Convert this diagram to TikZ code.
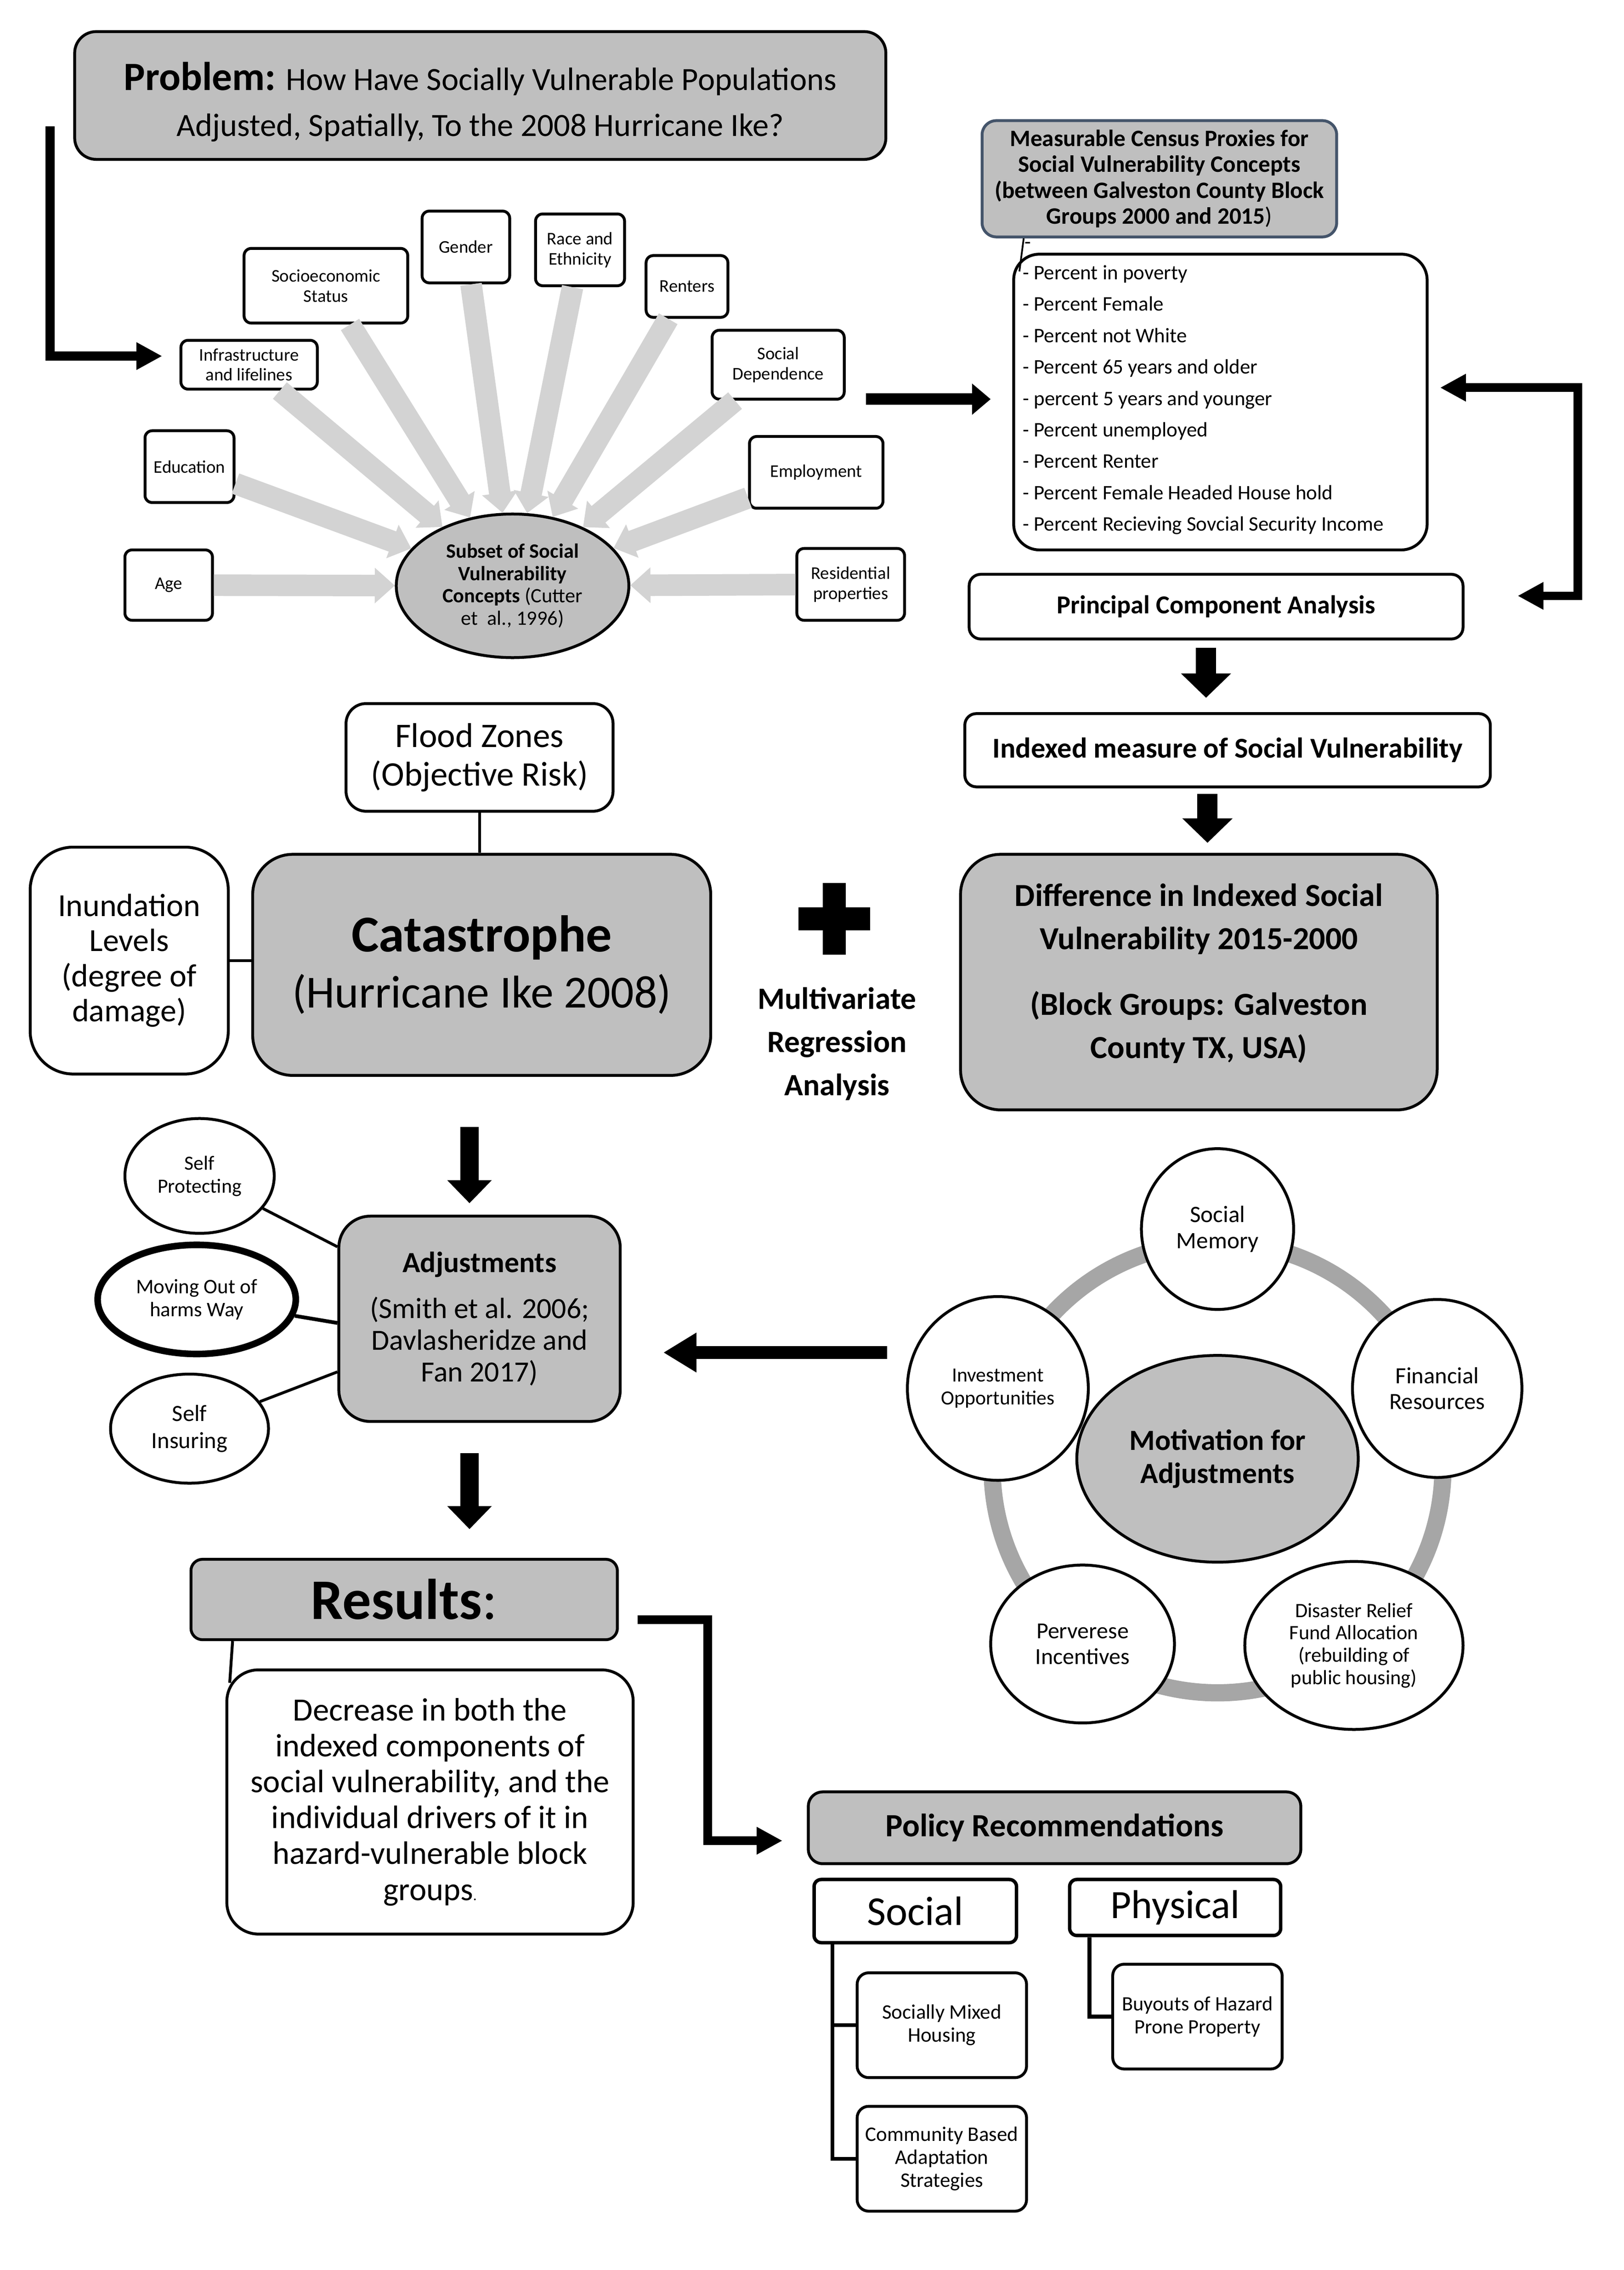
\documentclass[tikz,border=0pt]{standalone}
\usepackage{fontspec}
\setmainfont{Carlito}
\usetikzlibrary{arrows.meta,calc,shapes.geometric}
\definecolor{boxgray}{RGB}{191,191,191}
\definecolor{lightarr}{RGB}{211,211,211}
\definecolor{ringgray}{RGB}{166,166,166}
\definecolor{slateb}{RGB}{68,84,106}
\newcommand{\fsz}[2]{\fontsize{#1pt}{#2pt}\selectfont}
\begin{document}
\begin{tikzpicture}[x=0.5pt,y=-0.5pt,line join=miter,
  sz/.style 2 args={minimum width=#1*0.5pt, minimum height=#2*0.5pt},
  bx/.style={rectangle, draw=black, line width=1pt, fill=white, inner sep=0pt, align=center},
  gbx/.style={bx, fill=boxgray},
  cbx/.style={bx, rounded corners=2.5pt, font=\fsz{6.2}{7}},
  circ/.style={ellipse, draw=black, line width=1pt, fill=white, inner sep=0pt, align=center},
  txt/.style={inner sep=0pt, align=center},
  garrow/.style={draw=lightarr, line width=7.5pt, -{Triangle[width=12pt,length=7pt]}},
  arrA/.style={draw=black, line width=3.2pt, -{Triangle[width=9pt,length=9pt]}},
  arrB/.style={draw=black, line width=4pt, -{Triangle[width=10.5pt,length=6.5pt]}},
  arrC/.style={draw=black, line width=3pt, {Triangle[width=9pt,length=9pt]}-{Triangle[width=9pt,length=9pt]}},
  arrD/.style={draw=black, line width=7pt, -{Triangle[width=17pt,length=8.5pt]}},
  arrE/.style={draw=black, line width=6.5pt, -{Triangle[width=15pt,length=8pt]}},
  arrF/.style={draw=black, line width=4.5pt, -{Triangle[width=13pt,length=11.5pt]}},
  arrG/.style={draw=black, line width=3pt, -{Triangle[width=9pt,length=9pt]}},
  thin/.style={draw=black, line width=1pt},
  tree/.style={draw=black, line width=1.3pt}
]
\useasboundingbox (0,0) rectangle (1131,1581);
\fill[white] (0,0) rectangle (1131,1581);

% ---------- Problem ----------
\node[gbx, rounded corners=7.5pt, sz={565}{89}] (prob) at (334.5,66.5) {};
\node[txt, font=\fsz{11.3}{16}] (probtxt) at (334.5,71)
  {{\fsz{14}{16}\bfseries Problem:} How Have Socially Vulnerable Populations\\Adjusted, Spatially, To the 2008 Hurricane Ike?};

% ---------- concept boxes ----------
\node[cbx, sz={95}{34}] (infra) at (173.5,254) {Infrastructure\\and lifelines};
\node[cbx, sz={114}{52}] (socio) at (227,199) {Socioeconomic\\Status};
\node[cbx, sz={61}{50}] (gender) at (324.5,172) {Gender};
\node[cbx, sz={62}{50}] (race) at (404,174) {Race and\\Ethnicity};
\node[cbx, sz={57}{43}] (renters) at (478.5,199.5) {Renters};
\node[cbx, sz={92}{48}] (socdep) at (542,254) {Social\\Dependence};
\node[cbx, sz={62}{50}] (edu) at (132,325) {Education};
\node[cbx, sz={93}{50}] (emp) at (568.5,329) {Employment};
\node[cbx, sz={61}{49}] (age) at (117.5,407.5) {Age};
\node[cbx, sz={75}{50}] (resid) at (592.5,407) {Residential\\properties};
\node[circ, fill=boxgray, sz={162}{100}, font=\fsz{7.1}{7.8}] (sub) at (357,408)
  {\textbf{Subset of Social}\\\textbf{Vulnerability}\\\textbf{Concepts} (Cutter\\et~ al., 1996)};
\foreach \n in {infra,socio,gender,race,renters,socdep,edu,emp,age,resid}
  \draw[garrow] (\n) -- (sub);

% problem -> infrastructure
\coordinate (lpa) at (35,88);
\coordinate (lpb) at (113,248);
\draw[arrA] (lpa) |- (lpb);

% ---------- census proxies ----------
\node[gbx, draw=slateb, rounded corners=5pt, sz={247}{81}, font=\fsz{8.2}{9}\bfseries] (census) at (807.5,124.5)
  {Measurable Census Proxies for\\Social Vulnerability Concepts\\(between Galveston County Block\\Groups 2000 and 2015{\mdseries)}};
\node[bx, rounded corners=9pt, sz={288}{206}] (list) at (850,280) {};
\node[anchor=west, align=left, inner sep=0pt, font=\fsz{7.2}{10.95}] (listtxt) at (712,278.5)
  {- Percent in poverty\\- Percent Female\\- Percent not White\\- Percent 65 years and older\\- percent 5 years and younger\\- Percent unemployed\\- Percent Renter\\- Percent Female Headed House hold\\- Percent Recieving Sovcial Security Income};
\node[inner sep=0pt, font=\fsz{7.2}{8}] (dash) at (716,171) {-};
\draw[line width=0.6pt] ($(census.south west)+(30,0)$) -- ($(list.north west)+(5,13)$);

% subset -> list
\coordinate (a1s) at (603,278);
\coordinate (a1e) at (690,278);
\draw[arrB] (a1s) -- (a1e);

% right double elbow
\coordinate (rt) at (1003,270);
\coordinate (rb) at (1057,415);
\coordinate (rx) at (1099,0);
\draw[arrC] (rt) -- (rt -| rx) -- (rb -| rx) -- (rb);

% ---------- PCA chain ----------
\node[bx, rounded corners=4pt, sz={344}{45}, font=\fsz{9}{10}\bfseries] (pca) at (847,422.5) {Principal Component Analysis};
\coordinate (d1s) at (840,451);
\coordinate (d1e) at (840,486);
\draw[arrD] (d1s) -- (d1e);
\node[bx, rounded corners=4pt, sz={366}{51}, font=\fsz{10}{11}\bfseries] (idx) at (855,522.5) {Indexed measure of Social Vulnerability};
\coordinate (d2s) at (841,553);
\coordinate (d2e) at (841,587);
\draw[arrD] (d2s) -- (d2e);
\node[gbx, rounded corners=14pt, sz={332}{178}] (diff) at (835,684) {};
\node[txt, font=\fsz{11.2}{15}\bfseries] (difftxt) at (835,678)
  {Difference in Indexed Social\\Vulnerability 2015-2000\\[8pt](Block Groups: Galveston\\County TX, USA)};

% plus and MRA
\fill[black] (556,632) rectangle (606,648);
\fill[black] (573,615) rectangle (589,665);
\node[txt, font=\fsz{10.8}{15}\bfseries] (mra) at (583,727) {Multivariate\\Regression\\Analysis};

% ---------- catastrophe ----------
\node[bx, rounded corners=7pt, sz={186}{75}, font=\fsz{12}{13.5}] (flood) at (334,527.5) {Flood Zones\\(Objective Risk)};
\node[gbx, rounded corners=14pt, sz={319}{154}, font=\fsz{16}{19.5}] (cat) at (335.5,672)
  {{\fsz{18}{19.5}\bfseries Catastrophe}\\(Hurricane Ike 2008)};
\node[bx, rounded corners=15pt, sz={138}{158}, font=\fsz{11.2}{12.2}] (inund) at (90,669) {Inundation\\Levels\\(degree of\\damage)};
\draw[thin] (flood.south) -- (flood.south |- cat.north);
\draw[thin] (inund.east) -- (inund.east -| cat.west);

\coordinate (d3s) at (327,785);
\coordinate (d3e) at (327,838);
\draw[arrE] (d3s) -- (d3e);

% ---------- adjustments ----------
\node[gbx, rounded corners=11pt, sz={196}{143}, font=\fsz{10.2}{11}] (adj) at (334,918.5)
  {\textbf{Adjustments}\\[5pt](Smith et al. 2006;\\Davlasheridze and\\Fan 2017)};
\node[circ, sz={104}{80}, font=\fsz{7}{8}] (sp) at (139,819) {Self\\Protecting};
\node[circ, line width=2.3pt, sz={138}{76}, font=\fsz{7.2}{8}] (mow) at (137,905) {Moving Out of\\harms Way};
\node[circ, sz={110}{76}, font=\fsz{8.1}{9.5}] (si) at (132,995) {Self\\Insuring};
\draw[thin] (sp) -- ($(adj.north west)!0.154!(adj.south west)$);
\draw[thin, line width=1.3pt] (mow) -- ($(adj.north west)!0.52!(adj.south west)$);
\draw[thin] (si) -- ($(adj.north west)!0.755!(adj.south west)$);

\coordinate (d4s) at (327,1012);
\coordinate (d4e) at (327,1065);
\draw[arrE] (d4s) -- (d4e);

% motivation -> adjustments
\coordinate (la1) at (618,942);
\coordinate (la2) at (462,942);
\draw[arrF] (la1) -- (la2);

% ---------- motivation cycle ----------
\coordinate (ringc) at (848,1022);
\draw[ringgray, line width=6pt] (ringc) circle[radius=78.5pt];
\node[circ, fill=boxgray, sz={196}{144}, font=\fsz{10.2}{11.5}\bfseries] (mot) at (848,1016) {Motivation for\\Adjustments};
\node[circ, sz={106}{112}, font=\fsz{8.2}{9}] (smem) at (848,856) {Social\\Memory};
\node[circ, sz={118}{124}, font=\fsz{8.1}{9}] (fin) at (1001,967) {Financial\\Resources};
\node[circ, sz={126}{128}, font=\fsz{7}{8}] (inv) at (695,967) {Investment\\Opportunities};
\node[circ, sz={128}{110}, font=\fsz{8}{9}] (perv) at (754,1145) {Perverese\\Incentives};
\node[circ, sz={152}{117}, font=\fsz{7.1}{7.8}] (dis) at (943,1146) {Disaster Relief\\Fund Allocation\\(rebuilding of\\public housing)};

% ---------- results ----------
\node[gbx, rounded corners=4pt, sz={297}{56}, font=\fsz{20}{22}] (res) at (281.5,1114) {\textbf{Results}:};
\node[bx, rounded corners=11pt, sz={283}{184}, font=\fsz{11.3}{12.5}] (restext) at (299.5,1255)
  {Decrease in both the\\indexed components of\\social vulnerability, and the\\individual drivers of it in\\hazard-vulnerable block\\groups{\fsz{5}{6}.}};
\draw[thin] ($(res.south west)+(30,0)$) -- ($(restext.north west)+(3,10)$);

\coordinate (rps) at (444,1128);
\coordinate (rpe) at (545,1282);
\coordinate (rpx) at (493,0);
\draw[arrG] (rps) -- (rps -| rpx) -- (rpe -| rpx) -- (rpe);

% ---------- policy ----------
\node[gbx, rounded corners=5pt, sz={343}{50}, font=\fsz{11.3}{12}\bfseries] (policy) at (734.5,1273) {Policy Recommendations};
\node[bx, line width=1.2pt, rounded corners=2.5pt, sz={141}{44}, font=\fsz{14.3}{15}] (social) at (637.5,1331) {Social};
\node[bx, line width=1.2pt, rounded corners=2.5pt, sz={147}{39}, font=\fsz{14}{15}] (phys) at (818.5,1328.5) {Physical};
\node[bx, rounded corners=4pt, sz={118}{73}, font=\fsz{7.2}{8}] (smh) at (656,1410.5) {Socially Mixed\\Housing};
\node[bx, rounded corners=4pt, sz={118}{73}, font=\fsz{7.2}{8}] (cbas) at (656,1503.5) {Community Based\\Adaptation\\Strategies};
\node[bx, rounded corners=4pt, sz={118}{73}, font=\fsz{7.1}{8}] (buy) at (834,1404.5) {Buyouts of Hazard\\Prone Property};
\draw[tree] ($(social.south west)+(14,0)$) |- (smh.west);
\draw[tree] ($(social.south west)+(14,0)$) |- (cbas.west);
\draw[tree] ($(phys.south west)+(15,0)$) |- (buy.west);
\end{tikzpicture}
\end{document}
